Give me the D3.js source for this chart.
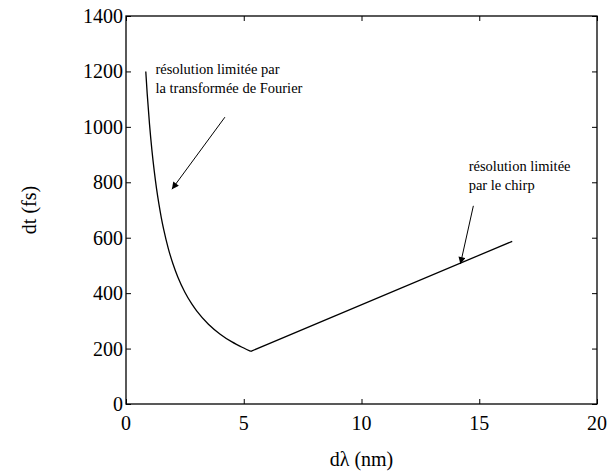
<!DOCTYPE html>
<html><head><meta charset="utf-8">
<script src="https://cdn.jsdelivr.net/npm/d3@7"></script>
</head><body style="margin:0;background:#fff"><svg id="c" width="611" height="476"></svg>
<script>
const xTicks = [0, 5, 10, 15, 20];
const yTicks = [0, 200, 400, 600, 800, 1000, 1200, 1400];
const dLambda = [0.84, 0.9, 1.0, 1.1, 1.2, 1.3, 1.4, 1.5, 1.6, 1.8, 2.0, 2.2, 2.5, 2.8, 3.0, 3.5, 4.0, 4.5, 5.0, 5.3, 16.4];
const dt      = [1200, 1120, 1008, 916, 840, 775, 720, 672, 630, 560, 504, 458, 403, 360, 336, 288, 252, 224, 202, 190, 587];
const notes = [
  {lines: ["résolution limitée par", "la transformée de Fourier"], x: 1.25, y: 1190, from: [4.2, 1035], to: [1.95, 775]},
  {lines: ["résolution limitée", "par le chirp"], x: 14.55, y: 840, from: [14.75, 715], to: [14.2, 505]}
];

const svg = d3.select("#c");
const L = 126, R = 597, T = 16, B = 404;
const x = d3.scaleLinear().domain([0, 20]).range([L, R]);
const y = d3.scaleLinear().domain([0, 1400]).range([B, T]);
const fmt = d3.format("d");
const serif = (sel, size) => sel.style("font-family", '"Liberation Serif"').style("font-size", size + "px").attr("fill", "#000");

svg.append("defs").append("marker").attr("id", "ah").attr("viewBox", "0 0 10 10")
  .attr("refX", 10).attr("refY", 5).attr("markerWidth", 9).attr("markerHeight", 7)
  .attr("markerUnits", "userSpaceOnUse").attr("orient", "auto")
  .append("path").attr("d", "M0,0 L10,5 L0,10 Z").attr("fill", "#000");

// inward tick marks on all four sides (labels drawn separately)
const tl = 5;
const noLabels = g => { g.select(".domain").remove(); g.selectAll(".tick text").remove(); g.selectAll(".tick line").attr("stroke", "#000"); };
svg.append("g").attr("transform", `translate(0,${B})`)
  .call(d3.axisBottom(x).tickValues(xTicks).tickSizeInner(-tl).tickSizeOuter(0)).call(noLabels);
svg.append("g").attr("transform", `translate(0,${T})`)
  .call(d3.axisTop(x).tickValues(xTicks).tickSizeInner(-tl).tickSizeOuter(0)).call(noLabels);
svg.append("g").attr("transform", `translate(${L},0)`)
  .call(d3.axisLeft(y).tickValues(yTicks).tickSizeInner(-tl).tickSizeOuter(0)).call(noLabels);
svg.append("g").attr("transform", `translate(${R},0)`)
  .call(d3.axisRight(y).tickValues(yTicks).tickSizeInner(-tl).tickSizeOuter(0)).call(noLabels);

// tick labels
xTicks.forEach(v => serif(svg.append("text"), 20).attr("x", x(v)).attr("y", B + 26).attr("text-anchor", "middle").text(fmt(v)));
yTicks.forEach(v => serif(svg.append("text"), 20).attr("x", L - 3).attr("y", y(v) + 7).attr("text-anchor", "end").text(fmt(v)));

svg.append("rect").attr("x", L).attr("y", T).attr("width", R - L).attr("height", B - T)
  .attr("fill", "none").attr("stroke", "#000").attr("stroke-width", 1.3);

// curve: smooth Fourier-limited branch, straight chirp-limited branch
const pts = dLambda.map((d, i) => [d, dt[i]]);
const left = pts.slice(0, pts.length - 1), right = pts.slice(pts.length - 2);
svg.append("path").datum(left)
  .attr("d", d3.line().x(d => x(d[0])).y(d => y(d[1])).curve(d3.curveMonotoneX))
  .attr("fill", "none").attr("stroke", "#000").attr("stroke-width", 1.3);
svg.append("path").datum(right)
  .attr("d", d3.line().x(d => x(d[0])).y(d => y(d[1])))
  .attr("fill", "none").attr("stroke", "#000").attr("stroke-width", 1.3);

notes.forEach(n => {
  n.lines.forEach((s, i) => serif(svg.append("text"), 14.5).attr("x", x(n.x)).attr("y", y(n.y) + i * 19).text(s));
  svg.append("line").attr("x1", x(n.from[0])).attr("y1", y(n.from[1]))
    .attr("x2", x(n.to[0])).attr("y2", y(n.to[1]))
    .attr("stroke", "#000").attr("stroke-width", 1).attr("marker-end", "url(#ah)");
});

serif(svg.append("text"), 20).attr("x", (L + R) / 2).attr("y", 466).attr("text-anchor", "middle").text("dλ (nm)");
serif(svg.append("text"), 20).attr("transform", `translate(36,${(T + B) / 2}) rotate(-90)`).attr("text-anchor", "middle").text("dt (fs)");
</script></body></html>
